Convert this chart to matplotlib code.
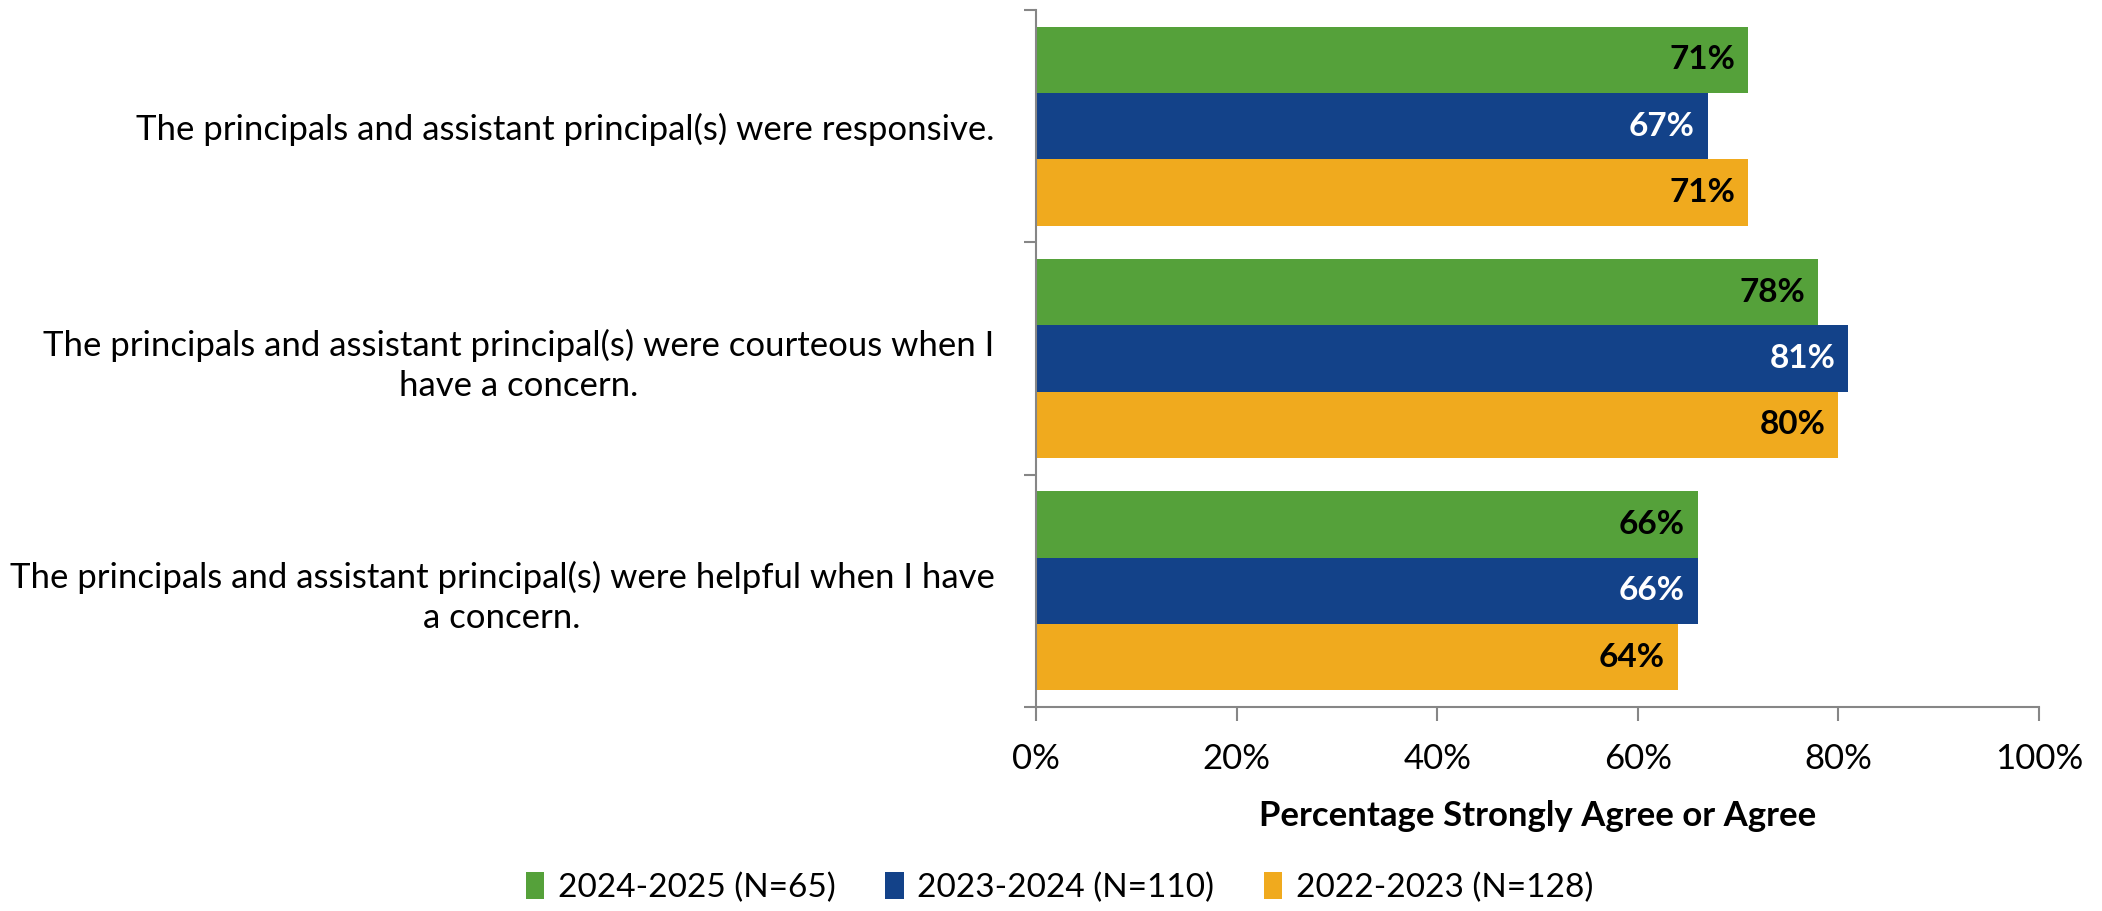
import matplotlib

matplotlib.use("Agg")
import matplotlib.pyplot as plt
import numpy as np

plt.rcParams["font.family"] = ["Lato", "DejaVu Sans"]

# Data
categories = [
    "The principals and assistant principal(s) were responsive.",
    "The principals and assistant principal(s) were courteous when I\nhave a concern.",
    "The principals and assistant principal(s) were helpful when I have\na concern.",
]
series_names = ["2024-2025 (N=65)", "2023-2024 (N=110)", "2022-2023 (N=128)"]
vals_2425 = [71, 78, 66]
vals_2324 = [67, 81, 66]
vals_2223 = [71, 80, 64]

colors = ["#55A13A", "#134289", "#F0AA1E"]
label_colors = ["black", "white", "black"]

fig = plt.figure(figsize=(21.02, 9.11), dpi=100)
ax = fig.add_axes([0.4929, 0.2239, 0.4771, 0.7651])

y = np.arange(len(categories))
h = 0.2857
all_vals = [vals_2425, vals_2324, vals_2223]
for i, (vals, name) in enumerate(zip(all_vals, series_names)):
    pos = y + (i - 1) * h
    ax.barh(pos, vals, height=h, color=colors[i], label=name)
    for p, v in zip(pos, vals):
        ax.text(v - 1.3, p, f"{v}%", ha="right", va="center",
                fontsize=24, fontweight="bold", color=label_colors[i])

ax.set_ylim(len(categories) - 0.5, -0.5)
ax.set_xlim(0, 100)

# y axis: ticks at category boundaries, labels centered
ax.set_yticks(y)
ax.set_yticklabels(categories, fontsize=25, multialignment="center", linespacing=1.3)
ax.tick_params(axis="y", which="major", length=0, pad=30)
ax.set_yticks(np.arange(-0.5, len(categories)), minor=True)
ax.tick_params(axis="y", which="minor", length=9, width=1.5, color="#868686")

ax.set_xticks(range(0, 101, 20))
ax.set_xticklabels([f"{t}%" for t in range(0, 101, 20)], fontsize=25)
ax.tick_params(axis="x", length=10, width=1.5, color="#868686", pad=16)
ax.set_xlabel("Percentage Strongly Agree or Agree", fontsize=25,
              fontweight="bold", labelpad=18)

for s in ["top", "right"]:
    ax.spines[s].set_visible(False)
for s in ["left", "bottom"]:
    ax.spines[s].set_color("#868686")
    ax.spines[s].set_linewidth(1.5)

fig.legend(loc="center", bbox_to_anchor=(0.504, 0.026), ncol=3,
           frameon=False, fontsize=24, handlelength=0.55, handleheight=0.9,
           handletextpad=0.4, columnspacing=1.5)

fig.savefig("out.png", dpi=100)
